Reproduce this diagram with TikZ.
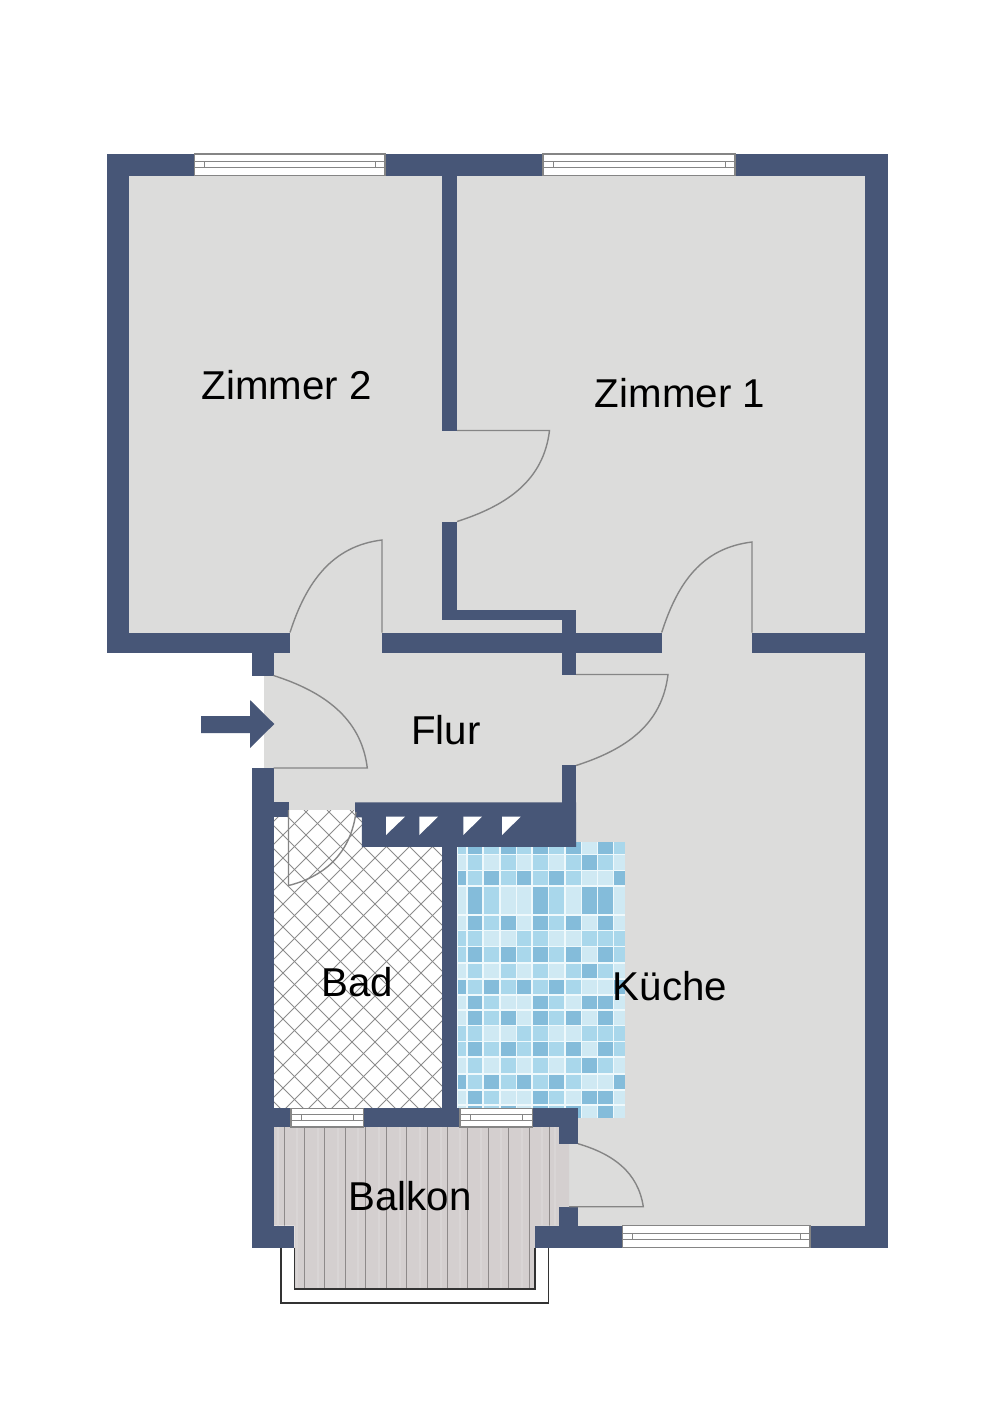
\documentclass[tikz,border=0pt]{standalone}
\usepackage{fontspec}
\setmainfont{Liberation Sans}
\definecolor{wall}{HTML}{475677}
\definecolor{floorgray}{HTML}{DCDCDB}
\definecolor{tileD}{HTML}{84BCDA}
\definecolor{tileM}{HTML}{A9D7EB}
\definecolor{tileV}{HTML}{CFE9F3}
\definecolor{grout}{HTML}{EFF9FC}
\definecolor{woodA}{HTML}{D4CFCF}
\definecolor{woodB}{HTML}{D9D5D5}
\definecolor{plank}{HTML}{8E8A8A}
\definecolor{doorline}{HTML}{858585}
\definecolor{hatch}{HTML}{8C8C8C}
\definecolor{rail}{HTML}{333333}
\tikzset{
  wallfill/.style={fill=wall},
  doorleaf/.style={draw=doorline,line width=1.05pt},
  winframe/.style={draw=doorline,line width=0.8pt,fill=white},
  winmain/.style={draw=doorline,line width=0.6pt},
  roomlabel/.style={anchor=base,font=\fontsize{30.2}{36}\selectfont,text=black,inner sep=0pt},
  railline/.style={draw=rail,line width=0.85pt},
  hatchline/.style={draw=hatch,line width=0.65pt},
}
% horizontal window: x1 x2 ytop ybottom
\newcommand{\winbox}[4]{%
  \pgfmathsetmacro\wya{#3+0.33*(#4-#3)}%
  \pgfmathsetmacro\wyb{#3+0.64*(#4-#3)}%
  \pgfmathsetmacro\wxa{#1+10}%
  \pgfmathsetmacro\wxb{#2-10}%
  \draw[winframe] (#1,#3) rectangle (#2,#4);
  \draw[winmain] (#1,\wya) -- (#2,\wya);
  \draw[winmain] (#1,\wyb) -- (#2,\wyb);
  \draw[winmain] (\wxa,\wya) -- (\wxa,\wyb);
  \draw[winmain] (\wxb,\wya) -- (\wxb,\wyb);
}
% one row of mosaic tiles
\newcommand{\tilerow}[3]{%
  \foreach \col [count=\i from 0] in {#3} {%
    \pgfmathsetmacro\xa{{457.5,467.7,483.8,500.8,517,532.7,549.3,566,581.7,598,614.3}[\i]}%
    \pgfmathsetmacro\xb{{466,482.4,499,515.7,531,547.8,564.3,580.8,596.8,612.8,625}[\i]}%
    \fill[color=tile\col] (\xa,#1) rectangle (\xb,#2);
  }%
}
\newcommand{\balconyshape}{(273.5,1127) -- (559,1127) -- (559,1143.7) -- (569,1143.7) -- (569,1206.7)
  -- (559,1206.7) -- (559,1225.7) -- (535,1225.7) -- (535,1289) -- (294.3,1289)
  -- (294.3,1225.7) -- (273.5,1225.7) -- cycle}
\begin{document}
\begin{tikzpicture}[x=0.75pt,y=-0.75pt]
\useasboundingbox (0,0) rectangle (1000,1415);
\fill[white] (0,0) rectangle (1000,1415);

% floors
\fill[floorgray] (129,176) rectangle (865,640);
\fill[floorgray] (264,640) rectangle (576,810);
\fill[floorgray] (457,640) rectangle (865,1226);

% bathroom floor
\fill[white] (273.5,810) rectangle (442.5,1108);
\begin{scope}
  \clip (273.5,810) rectangle (442.5,1108);
  \foreach \a in {-60,-37,...,760} {
    \draw[hatchline] (\a,810) -- ++(-320,320);
  }
  \foreach \a in {-340,-317,...,460} {
    \draw[hatchline] (\a,810) -- ++(320,320);
  }
\end{scope}

% mosaic
\fill[grout] (457.3,842) rectangle (625,1118);
\tilerow{842}{853.5}{M,D,M,D,M,D,M,D,V,D,M}
\tilerow{855}{869.5}{V,M,V,M,V,M,V,M,D,M,V}
\tilerow{871}{885}{D,M,D,M,D,M,D,M,V,V,D}
\tilerow{887}{914}{V,D,M,V,V,D,M,V,D,D,V}
\tilerow{915.5}{929.5}{V,D,M,D,V,D,M,D,V,D,V}
\tilerow{931}{945.5}{M,M,V,V,M,M,V,V,M,M,M}
\tilerow{947}{962}{M,D,M,D,M,D,M,D,V,D,M}
\tilerow{963.5}{978}{V,M,V,M,V,M,V,M,D,M,V}
\tilerow{980}{994}{D,M,D,M,D,M,D,M,V,V,D}
\tilerow{995.7}{1009}{V,D,M,V,V,D,M,V,D,D,V}
\tilerow{1010.5}{1024.5}{V,D,M,D,V,D,M,D,V,D,V}
\tilerow{1026}{1040.5}{M,M,V,V,M,M,V,V,M,M,M}
\tilerow{1042}{1056}{M,D,M,D,M,D,M,D,V,D,M}
\tilerow{1058}{1072.5}{V,M,V,M,V,M,V,M,D,M,V}
\tilerow{1075}{1089}{D,M,D,M,D,M,D,M,V,V,D}
\tilerow{1090.5}{1104}{V,D,M,V,V,D,M,V,D,D,V}
\tilerow{1105.5}{1118}{V,D,M,D,V,D,M,D,V,D,V}

% balcony floor
\fill[woodA] \balconyshape;
\begin{scope}
  \clip \balconyshape;
  \foreach \a in {278,297,318,338,358,379,400,420,441,460,481,501,522,542,555} {
    \draw[woodB,line width=1.2pt] (\a,1127) -- (\a,1289);
  }
  \foreach \a in {284.3,304.3,324.7,345.3,365.3,386,406.7,427,447.3,467.7,488.3,508.7,529.3,549.7} {
    \draw[plank,line width=0.75pt] (\a,1127) -- (\a,1289);
  }
\end{scope}

% balcony railing
\draw[railline] (294.3,1247.5) -- (294.3,1289) -- (535,1289) -- (535,1247.5);
\draw[railline] (281,1247.5) -- (281,1303) -- (548.7,1303) -- (548.7,1247.5);

% outer walls and upper rooms
\fill[wallfill] (106.5,153.7) rectangle (888,176);
\fill[wallfill] (106.5,153.7) rectangle (129,653);
\fill[wallfill] (865,153.7) rectangle (888,1247.7);
\fill[wallfill] (106.5,632.5) rectangle (290,653);
\fill[wallfill] (381.7,632.5) rectangle (662.3,652.5);
\fill[wallfill] (752,632.5) rectangle (865,652.5);
% wall between rooms
\fill[wallfill] (442.3,176) rectangle (457.3,430.5);
\fill[wallfill] (442.3,521.5) rectangle (457.3,619.5);
\fill[wallfill] (442.3,610) rectangle (576,619.5);
\fill[wallfill] (561.5,610) rectangle (576,674.7);
\fill[wallfill] (561.5,765.3) rectangle (576,803);
% left wall of flat
\fill[wallfill] (251.7,652) rectangle (273.5,676);
\fill[wallfill] (251.7,767.7) rectangle (273.5,1247.7);
\fill[wallfill] (273.5,802.3) rectangle (288.7,817);
% chimney block
\fill[wallfill] (355.2,802.3) -- (576,802.3) -- (576,846.8) -- (361.8,846.8) -- (361.8,817.3) -- (355.2,817.3) -- cycle;
\fill[white] (386,835) -- (386,816.7) -- (405,816.7) -- cycle;
\fill[white] (419.3,835) -- (419.3,816.7) -- (438,816.7) -- cycle;
\fill[white] (463.3,835) -- (463.3,816.7) -- (482,816.7) -- cycle;
\fill[white] (502,835) -- (502,816.7) -- (520.7,816.7) -- cycle;
% bathroom / kitchen wall
\fill[wallfill] (442.3,846) rectangle (457.3,1108);
\fill[wallfill] (273.5,1108) rectangle (578.3,1127);
\fill[wallfill] (559,1108) rectangle (578.3,1143.7);
\fill[wallfill] (559,1206.7) rectangle (578.3,1226);
% bottom wall
\fill[wallfill] (251.7,1225.7) rectangle (294.3,1247.7);
\fill[wallfill] (535,1225.7) rectangle (888,1247.7);

% windows
\winbox{194.3}{385}{154}{175.5}
\winbox{543}{735}{154}{175.5}
\winbox{622.5}{810}{1225.7}{1247.5}
\winbox{291}{363.5}{1108.5}{1127}
\winbox{460}{532.5}{1108.5}{1127}

% doors
\draw[doorleaf] (457,430.5) -- (549.5,430.5) .. controls (543.5,480.5) and (507,505.5) .. (457,521.5);
\draw[doorleaf] (752,632.5) -- (752,542) .. controls (702,548) and (677.7,582.5) .. (661.7,632.5);
\draw[doorleaf] (382,632.5) -- (382,540) .. controls (332,546) and (306,582.5) .. (290,632.5);
\draw[doorleaf] (273.5,768) -- (367.3,768) .. controls (361.3,718) and (323.5,691.5) .. (273.5,675.5);
\draw[doorleaf] (576,674.5) -- (668,674.5) .. controls (662,724.5) and (626,749.5) .. (576,765.5);
\draw[doorleaf] (288.5,810) -- (288.5,885.5) .. controls (327,876) and (351,851) .. (356,812);
\draw[doorleaf] (569,1206.7) -- (643.3,1206.7) .. controls (638,1172) and (613,1154) .. (578,1143.7);

% entrance arrow
\fill[wallfill] (201,716) -- (250,716) -- (250,700) -- (274.3,724) -- (250,748) -- (250,733) -- (201,733) -- cycle;

% labels
\node[roomlabel] (zimmerzwei) at (286.5,399.5) {Zimmer 2};
\node[roomlabel] (zimmereins) at (680,407.5) {Zimmer 1};
\node[roomlabel] (flur) at (446,744.5) {Flur};
\node[roomlabel] (bad) at (357,996) {Bad};
\node[roomlabel] (kueche) at (670,1000.5) {Küche};
\node[roomlabel] (balkon) at (410,1210) {Balkon};
\end{tikzpicture}
\end{document}
